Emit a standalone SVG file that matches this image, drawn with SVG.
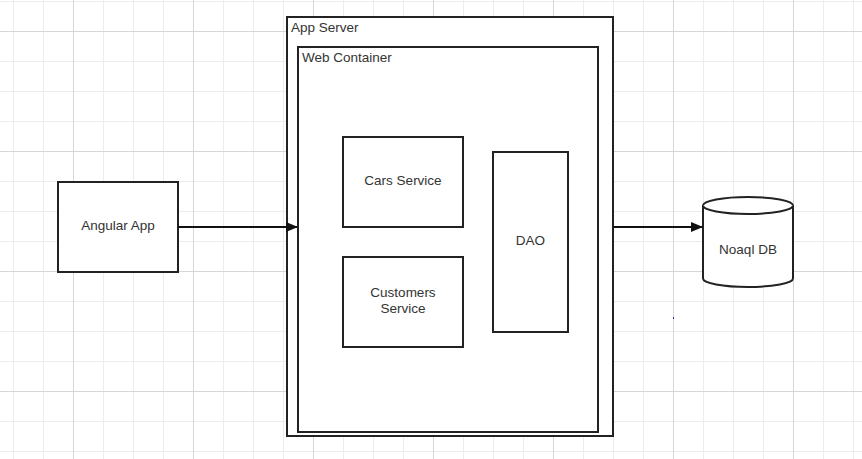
<svg xmlns="http://www.w3.org/2000/svg" width="862" height="459" viewBox="0 0 862 459">
<defs>
<style>
.minor{stroke:#ececec;stroke-width:1}
.major{stroke:#d6d6d6;stroke-width:1}
.box{fill:#ffffff;stroke:#222222;stroke-width:2}
.conn{stroke:#111111;stroke-width:2;fill:none}
text{font-family:"Liberation Sans",Arial,sans-serif;font-size:13.5px;fill:#333333}
.c{text-anchor:middle}
</style>
<marker id="arrow" viewBox="0 0 12 10" refX="11" refY="5" markerWidth="12" markerHeight="10" markerUnits="userSpaceOnUse" orient="auto">
<path d="M0,0 L12,5 L0,10 Z" fill="#111111"/>
</marker>
</defs>
<rect width="862" height="459" fill="#ffffff"/>
<g id="grid">
<path class="minor" d="M13.5,0V459M43.5,0V459M103.5,0V459M133.5,0V459M163.5,0V459M223.5,0V459M253.5,0V459M283.5,0V459M343.5,0V459M373.5,0V459M403.5,0V459M463.5,0V459M493.5,0V459M523.5,0V459M583.5,0V459M613.5,0V459M643.5,0V459M703.5,0V459M733.5,0V459M763.5,0V459M823.5,0V459M853.5,0V459"/>
<path class="minor" d="M0,1.5H862M0,61.5H862M0,91.5H862M0,121.5H862M0,181.5H862M0,211.5H862M0,241.5H862M0,301.5H862M0,331.5H862M0,361.5H862M0,421.5H862M0,451.5H862"/>
<path class="major" d="M73.5,0V459M193.5,0V459M313.5,0V459M433.5,0V459M553.5,0V459M673.5,0V459M793.5,0V459"/>
<path class="major" d="M0,31.5H862M0,151.5H862M0,271.5H862M0,391.5H862"/>
</g>
<g id="app-server">
<rect class="box" x="287" y="17" width="326" height="419"/>
<text x="291" y="32">App Server</text>
</g>
<g id="web-container">
<rect class="box" x="298" y="47" width="300" height="385"/>
<text x="302" y="62">Web Container</text>
</g>
<g id="angular-app">
<rect class="box" x="58" y="182" width="120" height="90"/>
<text class="c" x="118" y="230">Angular App</text>
</g>
<g id="cars-service">
<rect class="box" x="343" y="137" width="120" height="90"/>
<text class="c" x="403" y="185">Cars Service</text>
</g>
<g id="customers-service">
<rect class="box" x="343" y="257" width="120" height="90"/>
<text class="c" x="403" y="297">Customers</text>
<text class="c" x="403" y="313">Service</text>
</g>
<g id="dao">
<rect class="box" x="493" y="152" width="75" height="180"/>
<text class="c" x="530.5" y="245">DAO</text>
</g>
<g id="noaql-db">
<path class="box" d="M703,205.5 A45,8.5 0 0 1 793,205.5 V278.5 A45,8.5 0 0 1 703,278.5 Z"/>
<path class="box" fill="none" d="M703,205.5 A45,8.5 0 0 0 793,205.5"/>
<text class="c" x="748" y="254">Noaql DB</text>
</g>
<g id="connectors">
<line class="conn" x1="178" y1="227" x2="297" y2="227" marker-end="url(#arrow)"/>
<line class="conn" x1="613" y1="227" x2="702" y2="227" marker-end="url(#arrow)"/>
</g>
<rect x="673" y="317" width="1" height="2" fill="#2a2a9a"/>
</svg>
